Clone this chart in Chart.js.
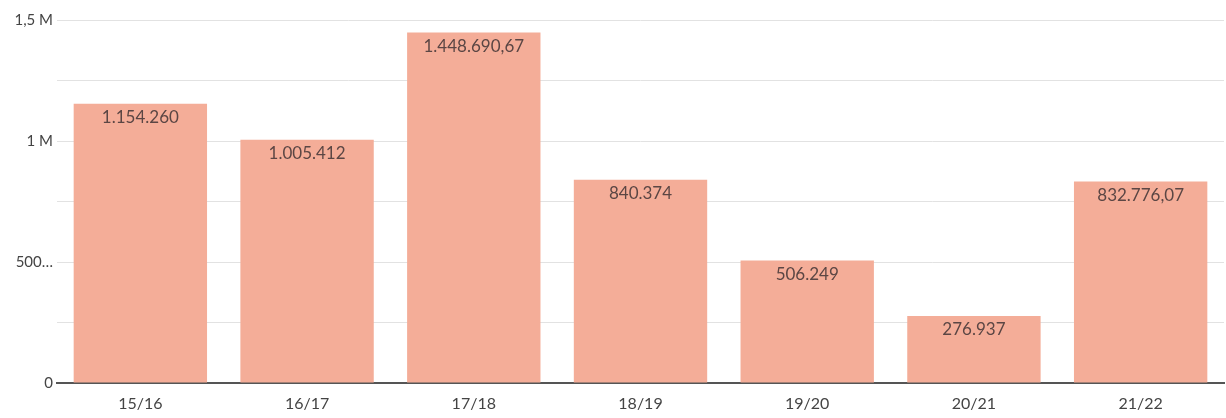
<!DOCTYPE html>
<html>
<head>
<meta charset="utf-8">
<script src="https://cdn.jsdelivr.net/npm/chart.js"></script>
<style>
  html, body { margin: 0; padding: 0; background: #fff; }
  #wrap { width: 1226px; height: 418px; }
</style>
</head>
<body>
<div id="wrap"><canvas id="barChart" width="1226" height="418"></canvas></div>
<script>
// chart data
const seasons = ["15/16", "16/17", "17/18", "18/19", "19/20", "20/21", "21/22"];
const amounts = [1154260, 1005412, 1448690.67, 840374, 506249, 276937, 832776.07];
const amountLabels = ["1.154.260", "1.005.412", "1.448.690,67", "840.374", "506.249", "276.937", "832.776,07"];
const yTickLabels = { 0: "0", 500000: "500…", 1000000: "1 M", 1500000: "1,5 M" };

const fontFamily = "Lato, 'Open Sans', sans-serif";

// draws the value text inside the top of every bar
const barValueLabels = {
    id: "barValueLabels",
    afterDatasetsDraw(chart) {
        const ctx = chart.ctx;
        const meta = chart.getDatasetMeta(0);
        ctx.save();
        ctx.font = "17px " + fontFamily;
        ctx.fillStyle = "#5b4644";
        ctx.textAlign = "center";
        ctx.textBaseline = "middle";
        meta.data.forEach(function (bar, i) {
            ctx.fillText(amountLabels[i], bar.x, bar.y + 14);
        });
        ctx.restore();
    }
};

const ctx = document.getElementById("barChart").getContext("2d");
new Chart(ctx, {
    type: "bar",
    data: {
        labels: seasons,
        datasets: [{
            data: amounts,
            backgroundColor: "#f4ad98",
            barPercentage: 0.8,
            categoryPercentage: 1.0
        }]
    },
    options: {
        responsive: false,
        animation: false,
        layout: { padding: { top: 20, right: 2, left: 0, bottom: 0 } },
        plugins: {
            legend: { display: false },
            tooltip: { enabled: false }
        },
        scales: {
            x: {
                grid: { display: false, drawTicks: false },
                border: { display: true, color: "#555555", width: 2 },
                ticks: {
                    color: "#444444",
                    padding: 11,
                    font: { family: fontFamily, size: 16 }
                },
                afterFit: function (scale) { scale.height = 35; }
            },
            y: {
                min: 0,
                max: 1500000,
                grid: { color: "#e2e2e2", drawTicks: false },
                border: { display: false },
                ticks: {
                    stepSize: 250000,
                    padding: 4,
                    color: "#444444",
                    font: { family: fontFamily, size: 15 },
                    callback: function (value) {
                        return yTickLabels[value] !== undefined ? yTickLabels[value] : "";
                    }
                },
                afterFit: function (scale) { scale.width = 57; }
            }
        }
    },
    plugins: [barValueLabels]
});
</script>
</body>
</html>
